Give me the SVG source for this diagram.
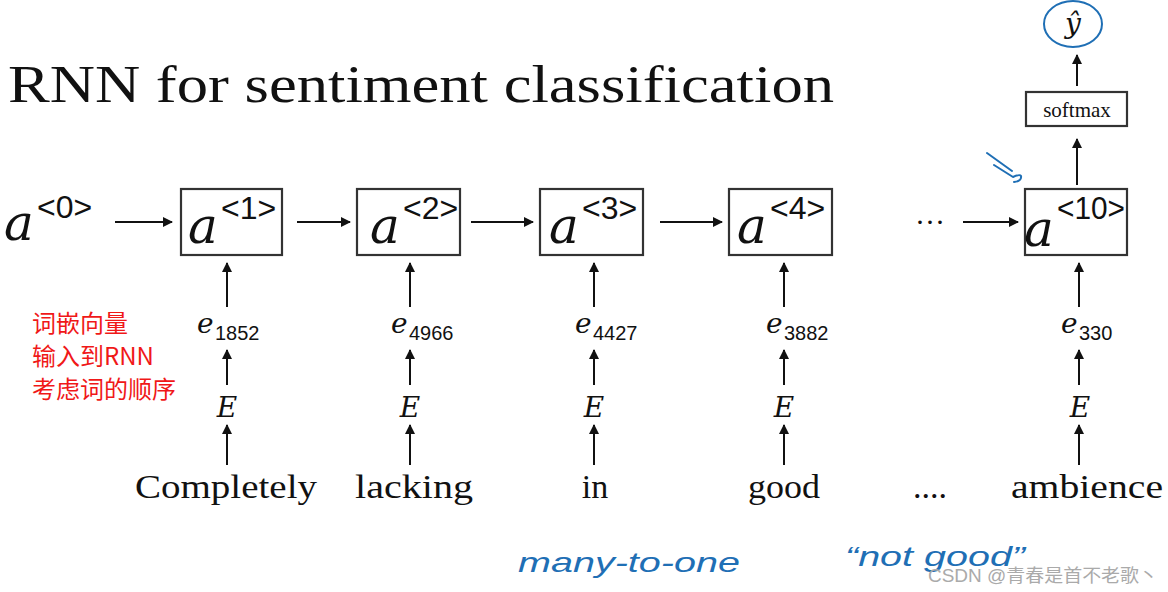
<svg xmlns="http://www.w3.org/2000/svg" width="1168" height="592" viewBox="0 0 1168 592">
<style>
.box{fill:#fff;stroke:#333;stroke-width:2.2}
.ln{stroke:#111;stroke-width:2;fill:none}
.a{font-family:"DejaVu Serif","Liberation Serif",serif;font-style:italic;font-size:50px;fill:#111}
.sup{font-family:"Liberation Sans",sans-serif;font-size:32px;fill:#111}
.e{font-family:"DejaVu Serif","Liberation Serif",serif;font-style:italic;font-size:28px;fill:#111}
.sub{font-family:"Liberation Sans",sans-serif;font-size:20px;fill:#111}
.w{font-family:"Liberation Serif",serif;font-size:34px;fill:#111;text-anchor:middle}
.red{font-family:"Noto Sans CJK SC",sans-serif;font-size:24px;fill:#f01818}
.pen{stroke:#1f6fb5;stroke-width:2;fill:none;stroke-linecap:round;stroke-linejoin:round}
.hand{font-family:"Liberation Sans",sans-serif;font-style:italic;font-size:28px;fill:#1f6fb5}
</style>
<defs>
<marker id="ah" markerWidth="10" markerHeight="10" refX="9" refY="5" orient="auto" markerUnits="userSpaceOnUse">
<path d="M0,0 L10,5 L0,10 Z" fill="#111"/>
</marker>
</defs>
<rect width="1168" height="592" fill="#fff"/>
<text x="8" y="102" font-family="Liberation Serif,serif" font-size="52" fill="#111" textLength="826" lengthAdjust="spacingAndGlyphs">RNN for sentiment classification</text>

<g id="a0"><text class="a" x="4" y="240">a</text><text class="sup" x="37" y="218">&lt;0&gt;</text></g>

<g id="n1"><rect class="box" x="181" y="189" width="101" height="66"/><text class="a" x="188" y="243">a</text><text class="sup" x="221" y="219">&lt;1&gt;</text></g>
<g id="n2"><rect class="box" x="357" y="189" width="103" height="66"/><text class="a" x="370" y="243">a</text><text class="sup" x="403" y="219">&lt;2&gt;</text></g>
<g id="n3"><rect class="box" x="540" y="189" width="103" height="66"/><text class="a" x="549" y="243">a</text><text class="sup" x="582" y="219">&lt;3&gt;</text></g>
<g id="n4"><rect class="box" x="729" y="189" width="103" height="66"/><text class="a" x="737" y="243">a</text><text class="sup" x="770" y="219">&lt;4&gt;</text></g>
<g id="n10"><rect class="box" x="1025" y="189" width="102" height="66"/><text class="a" x="1024" y="246">a</text><text class="sup" x="1057" y="219" textLength="68" lengthAdjust="spacingAndGlyphs">&lt;10&gt;</text></g>
<g id="softmax"><rect class="box" x="1026" y="92" width="101" height="34"/><text x="1077" y="117" font-family="Liberation Serif,serif" font-size="21" fill="#111" text-anchor="middle">softmax</text></g>
<g id="yhat"><text x="1073" y="33" font-family="DejaVu Serif,serif" font-style="italic" font-size="28" fill="#111" text-anchor="middle">ŷ</text>
<ellipse cx="1073" cy="24" rx="29" ry="23" class="pen"/></g>

<g id="e1"><text class="e" x="197" y="333">e</text><text class="sub" x="215" y="340">1852</text></g>
<g id="e2"><text class="e" x="391" y="333">e</text><text class="sub" x="409" y="340">4966</text></g>
<g id="e3"><text class="e" x="575" y="333">e</text><text class="sub" x="593" y="340">4427</text></g>
<g id="e4"><text class="e" x="766" y="333">e</text><text class="sub" x="784" y="340">3882</text></g>
<g id="e10"><text class="e" x="1061" y="333">e</text><text class="sub" x="1079" y="340">330</text></g>

<g id="E" class="e" text-anchor="middle"><text x="227" y="417">E</text><text x="410" y="417">E</text><text x="594" y="417">E</text><text x="784" y="417">E</text><text x="1080" y="417">E</text></g>

<g id="words"><text class="w" x="226" y="498" textLength="182" lengthAdjust="spacingAndGlyphs">Completely</text><text class="w" x="414" y="498" textLength="118" lengthAdjust="spacingAndGlyphs">lacking</text><text class="w" x="595" y="498">in</text><text class="w" x="784" y="498" textLength="72" lengthAdjust="spacingAndGlyphs">good</text><text class="w" x="930" y="498">....</text><text class="w" x="1087" y="498" textLength="152" lengthAdjust="spacingAndGlyphs">ambience</text></g>
<text x="930" y="232" font-family="Liberation Serif,serif" font-size="30" fill="#111" text-anchor="middle">···</text>

<g id="connectors">
<line class="ln" x1="115" y1="222" x2="172" y2="222" marker-end="url(#ah)"/>
<line class="ln" x1="297" y1="222" x2="350" y2="222" marker-end="url(#ah)"/>
<line class="ln" x1="471" y1="222" x2="533" y2="222" marker-end="url(#ah)"/>
<line class="ln" x1="660" y1="222" x2="722" y2="222" marker-end="url(#ah)"/>
<line class="ln" x1="963" y1="222" x2="1018" y2="222" marker-end="url(#ah)"/>
<line class="ln" x1="1077" y1="185" x2="1077" y2="139" marker-end="url(#ah)"/>
<line class="ln" x1="1077" y1="86" x2="1077" y2="55" marker-end="url(#ah)"/>
<line class="ln" x1="227" y1="307" x2="227" y2="263" marker-end="url(#ah)"/>
<line class="ln" x1="410" y1="307" x2="410" y2="263" marker-end="url(#ah)"/>
<line class="ln" x1="594" y1="307" x2="594" y2="263" marker-end="url(#ah)"/>
<line class="ln" x1="784" y1="307" x2="784" y2="263" marker-end="url(#ah)"/>
<line class="ln" x1="1079" y1="307" x2="1079" y2="263" marker-end="url(#ah)"/>
<line class="ln" x1="227" y1="385" x2="227" y2="350" marker-end="url(#ah)"/>
<line class="ln" x1="410" y1="385" x2="410" y2="350" marker-end="url(#ah)"/>
<line class="ln" x1="594" y1="385" x2="594" y2="350" marker-end="url(#ah)"/>
<line class="ln" x1="784" y1="385" x2="784" y2="350" marker-end="url(#ah)"/>
<line class="ln" x1="1079" y1="385" x2="1079" y2="350" marker-end="url(#ah)"/>
<line class="ln" x1="227" y1="465" x2="227" y2="425" marker-end="url(#ah)"/>
<line class="ln" x1="410" y1="465" x2="410" y2="425" marker-end="url(#ah)"/>
<line class="ln" x1="594" y1="465" x2="594" y2="425" marker-end="url(#ah)"/>
<line class="ln" x1="784" y1="465" x2="784" y2="425" marker-end="url(#ah)"/>
<line class="ln" x1="1079" y1="465" x2="1079" y2="425" marker-end="url(#ah)"/>
</g>

<g id="note"><text class="red" x="32" y="332">词嵌向量</text><text class="red" x="32" y="365">输入到RNN</text><text class="red" x="32" y="398">考虑词的顺序</text></g>

<path class="pen" d="M987,153 L1012,171 M994,165 L1013,177 Q1020,174 1021,176 Q1022,181 1014,182"/>
<text class="hand" x="518" y="572" textLength="222" lengthAdjust="spacingAndGlyphs">many-to-one</text>
<text class="hand" x="845" y="566" textLength="180" lengthAdjust="spacingAndGlyphs">“not good”</text>
<text x="928" y="582" font-family="Liberation Sans,Noto Sans CJK SC,sans-serif" font-size="18" fill="#aaa" textLength="230" lengthAdjust="spacingAndGlyphs">CSDN @青春是首不老歌丶</text>
</svg>
